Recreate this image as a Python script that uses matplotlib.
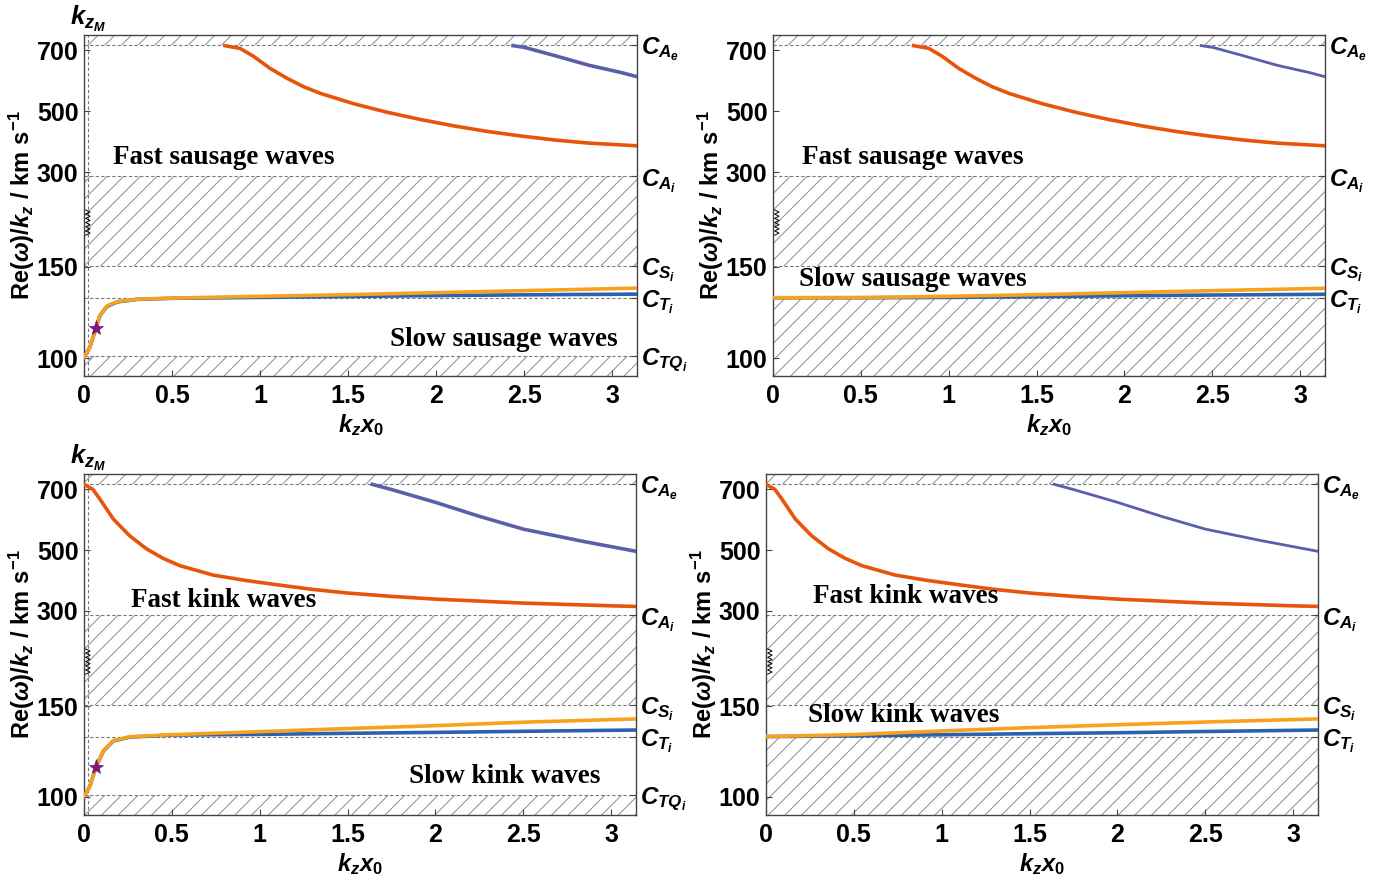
import numpy as np
import matplotlib
matplotlib.use('Agg')
import matplotlib.pyplot as plt
import matplotlib.transforms as mtransforms

plt.rcParams['mathtext.fontset'] = 'custom'
plt.rcParams['mathtext.it'] = 'Liberation Sans:italic:bold'
plt.rcParams['mathtext.rm'] = 'Liberation Sans:bold'
plt.rcParams['mathtext.bf'] = 'Liberation Sans:bold'
plt.rcParams['mathtext.sf'] = 'Liberation Sans:bold'
plt.rcParams['font.family'] = ['Liberation Sans', 'DejaVu Sans']
plt.rcParams['font.weight'] = 'bold'
plt.rcParams['hatch.linewidth'] = 0.7

# ---------------- data ----------------
# characteristic speeds (km/s)
C_AE, C_AI, C_SI, C_TI, C_TQI = 716.0, 293.0, 151.5, 133.1, 101.0
Y_MIN, Y_MAX = 90, 750
K_ZM = 0.022
STAR_X, STAR_V = 0.068, 116.3

# fast sausage (orange-red), both top panels
fs_x = [0.80, 0.887, 0.963, 1.058, 1.153, 1.248, 1.344, 1.534, 1.724, 1.915,
        2.105, 2.295, 2.485, 2.676, 2.866, 3.1416]
fs_v = [715, 706, 680, 640, 608, 580, 558, 524, 496, 472,
        451, 433, 418, 405, 395, 386]
# second fast sausage (slate blue)
fs2_x = [2.437, 2.505, 2.676, 2.866, 3.057, 3.1416]
fs2_v = [715, 709, 682, 651, 626, 613]

# slow sausage with k_zM (top-left)
ss_x = [0.0, 0.01, 0.034, 0.05, 0.068, 0.09, 0.13, 0.19, 0.3, 0.5, 1.0, 1.5, 2.0, 2.5, 3.1416]
ss_orange = [100.5, 102, 106, 111, 116.3, 123.5, 128.6, 131, 132.3, 132.9, 133.9, 134.8, 135.9, 137.0, 138.4]
ss_blue = [100.5, 102, 106, 111, 116.3, 123.2, 128.3, 130.8, 132.2, 132.8, 133.3, 133.8, 134.3, 134.7, 135.1]
# slow sausage without k_zM (top-right)
ss2_x = [0.0, 0.5, 1.0, 1.5, 2.0, 2.5, 3.1416]
ss2_orange = [133.1, 133.2, 133.9, 134.8, 135.9, 137.0, 138.3]
ss2_blue = [133.1, 133.1, 133.3, 133.7, 134.2, 134.6, 135.0]

# fast kink (orange-red), both bottom panels
fk_x = [0.0, 0.05, 0.09, 0.167, 0.26, 0.356, 0.45, 0.545, 0.735, 0.924, 1.114,
        1.3, 1.5, 1.75, 2.0, 2.5, 3.0, 3.1416]
fk_v = [716, 700, 668, 602, 547, 504, 473, 449, 418, 400, 385,
        371, 359, 348, 339, 326, 317, 315]
# second fast kink (slate blue)
fk2_x = [1.64, 1.75, 2.0, 2.25, 2.5, 2.82, 3.1416]
fk2_v = [716, 699, 657, 611, 569, 531, 496]

# slow kink with k_zM (bottom-left)
sk_x = [0.0, 0.01, 0.034, 0.05, 0.068, 0.11, 0.167, 0.26, 0.49, 1.0, 1.5, 2.0, 2.5, 3.1416]
sk_orange = [100.5, 102, 106, 111, 116.3, 125.4, 131, 133.1, 134.2, 135.9, 137.6, 139.2, 141.1, 142.9]
sk_blue = [100.5, 102, 106, 111, 116.3, 125.2, 130.8, 132.9, 134.0, 134.4, 135.0, 135.5, 136.1, 136.8]
# slow kink without k_zM (bottom-right)
sk2_x = [0.0, 0.5, 1.0, 1.5, 2.0, 2.5, 3.1416]
sk2_orange = [133.2, 134.3, 136.3, 138.1, 139.7, 141.2, 142.9]
sk2_blue = [133.2, 133.6, 134.2, 134.8, 135.3, 136.0, 136.8]

y_ticks = [100, 150, 300, 500, 700]
x_ticks = [0, 0.5, 1, 1.5, 2, 2.5, 3]
x_tick_labels = ['0', '0.5', '1', '1.5', '2', '2.5', '3']

# ---------------- broken (piecewise linear) y scale ----------------
V_NODES = np.array([90.0, 100.0, 150.0, 300.0, 750.0])
P_NODES = np.array([0.0, 18.0, 109.0, 204.0, 341.0])


def _pw(v, xs, ys):
    v = np.asarray(v, dtype=float)
    out = np.interp(v, xs, ys)
    s0 = (ys[1] - ys[0]) / (xs[1] - xs[0])
    s1 = (ys[-1] - ys[-2]) / (xs[-1] - xs[-2])
    out = np.where(v < xs[0], ys[0] + (v - xs[0]) * s0, out)
    out = np.where(v > xs[-1], ys[-1] + (v - xs[-1]) * s1, out)
    return out


def fwd(v):
    return _pw(v, V_NODES, P_NODES)


def inv(p):
    return _pw(p, P_NODES, V_NODES)


C_ORED = '#E8550A'
C_PURP = '#5B5EA8'
C_ORNG = '#F6A21E'
C_BLUE = '#2A62B0'
C_STAR = '#7A1A78'
C_GRID = '#7a7a7a'

W, H = 1391, 882
fig = plt.figure(figsize=(W / 100, H / 100), dpi=100)


def make_panel(px_left, px_top, px_right, px_bottom, kind, with_kzm):
    ax = fig.add_axes([px_left / W, 1 - px_bottom / H,
                       (px_right - px_left) / W, (px_bottom - px_top) / H])
    ax.set_yscale('function', functions=(fwd, inv))
    ax.set_xlim(0, np.pi)
    ax.set_ylim(Y_MIN, Y_MAX)

    low_limit = C_TQI if with_kzm else C_TI
    hatch_bands = [(C_AE, Y_MAX), (C_SI, C_AI), (Y_MIN, low_limit)]
    for lo, hi in hatch_bands:
        ax.fill_between([0, np.pi], lo, hi, facecolor='none', edgecolor='#8c8c8c',
                        hatch='//', linewidth=0, zorder=1)
    lines = [C_AE, C_AI, C_SI, C_TI] + ([C_TQI] if with_kzm else [])
    for c in lines:
        ax.axhline(c, color=C_GRID, ls=(0, (3, 2)), lw=0.8, zorder=2)
    if with_kzm:
        ax.axvline(K_ZM, color=C_GRID, ls=(0, (3, 2)), lw=0.8, zorder=2)

    lw_main = 2.6
    lw_sec = 2.6 if with_kzm else 2.0
    if kind == 'sausage':
        ax.plot(fs_x, fs_v, color=C_ORED, lw=lw_main, zorder=4)
        ax.plot(fs2_x, fs2_v, color=C_PURP, lw=lw_sec, zorder=4)
        if with_kzm:
            ax.plot(ss_x, ss_blue, color=C_BLUE, lw=lw_main, zorder=4)
            ax.plot(ss_x, ss_orange, color=C_ORNG, lw=lw_main, zorder=5)
        else:
            ax.plot(ss2_x, ss2_blue, color=C_BLUE, lw=lw_main, zorder=4)
            ax.plot(ss2_x, ss2_orange, color=C_ORNG, lw=lw_main, zorder=5)
    else:
        ax.plot(fk_x, fk_v, color=C_ORED, lw=lw_main, zorder=4)
        ax.plot(fk2_x, fk2_v, color=C_PURP, lw=lw_sec, zorder=4)
        if with_kzm:
            ax.plot(sk_x, sk_blue, color=C_BLUE, lw=lw_main, zorder=4)
            ax.plot(sk_x, sk_orange, color=C_ORNG, lw=lw_main, zorder=5)
        else:
            ax.plot(sk2_x, sk2_blue, color=C_BLUE, lw=lw_main, zorder=4)
            ax.plot(sk2_x, sk2_orange, color=C_ORNG, lw=lw_main, zorder=5)

    if with_kzm:
        ax.plot([STAR_X], [STAR_V], marker='*', ms=11, color=C_STAR, zorder=6,
                markeredgewidth=0.5)
        tr = mtransforms.blended_transform_factory(ax.transData, ax.transAxes)
        ax.text(K_ZM, 1.004, r'$k_{z_M}$', transform=tr, ha='center', va='bottom',
                fontsize=18.5)

    # zigzag break marker
    zz_y = np.linspace(0.413, 0.487, 13)
    zz_x = np.where(np.arange(13) % 2 == 0, 0.003, 0.011)
    ax.plot(zz_x, zz_y, transform=ax.transAxes, color='k', lw=0.7, zorder=6)

    # ticks and labels
    ax.set_yticks(y_ticks)
    ax.set_yticklabels([str(t) for t in y_ticks], fontsize=18, fontweight='bold')
    ax.minorticks_off()
    ax.set_xticks(x_ticks)
    ax.set_xticklabels(x_tick_labels, fontsize=18, fontweight='bold')
    ax.tick_params(direction='in', length=4, width=0.8, color='#444', pad=4)
    ax.tick_params(axis='x', pad=6)
    ax.set_xlabel(r'$k_z x_0$', fontsize=17, labelpad=3)
    ax.set_ylabel(r'$\mathrm{Re}(\omega)/k_z\ /\ \mathrm{km\ s^{-1}}$', fontsize=17,
                  labelpad=0)
    for s in ax.spines.values():
        s.set_color('#444')
        s.set_linewidth(1.0)

    # right-hand characteristic speed labels
    axr = ax.twinx()
    axr.set_yscale('function', functions=(fwd, inv))
    axr.set_ylim(Y_MIN, Y_MAX)
    labels = [r'$C_{A_e}$', r'$C_{A_i}$', r'$C_{S_i}$', r'$C_{T_i}$']
    if with_kzm:
        labels.append(r'$C_{TQ_i}$')
    axr.set_yticks(lines)
    axr.set_yticklabels(labels, fontsize=17.5)
    axr.minorticks_off()
    axr.tick_params(direction='in', length=4, width=0.8, color='#444', pad=3)
    for s in axr.spines.values():
        s.set_visible(False)
    return ax


make_panel(84, 35, 637, 376, 'sausage', True)
make_panel(773, 35, 1325, 376, 'sausage', False)
make_panel(84, 474, 636, 815, 'kink', True)
make_panel(766, 474, 1318, 815, 'kink', False)

# wave-type annotations (data coordinates of each panel)
axes = fig.axes[0::2]
serif = dict(family='Liberation Serif', fontweight='bold', fontsize=19.5, va='center', ha='left',
             zorder=7)
axes[0].text(0.165, 349, 'Fast sausage waves', **serif)
axes[0].text(1.74, 110, 'Slow sausage waves', **serif)
axes[1].text(0.165, 349, 'Fast sausage waves', **serif)
axes[1].text(0.148, 143.4, 'Slow sausage waves', **serif)
axes[2].text(0.267, 336, 'Fast kink waves', **serif)
axes[2].text(1.85, 111, 'Slow kink waves', **serif)
axes[3].text(0.268, 349, 'Fast kink waves', **serif)
axes[3].text(0.24, 144.7, 'Slow kink waves', **serif)

fig.savefig('out.png', dpi=100)
